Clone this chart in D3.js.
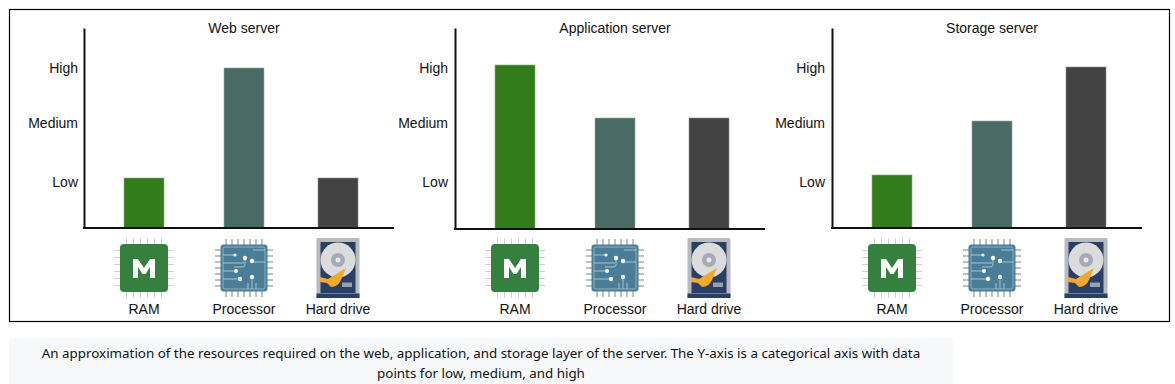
<!DOCTYPE html>
<html>
<head>
<meta charset="utf-8">
<script src="https://cdn.jsdelivr.net/npm/d3@7"></script>
<style>
  html, body { margin: 0; padding: 0; background: #fff; overflow: hidden; }
  svg text { font-family: "Liberation Sans", Arial, sans-serif; font-size: 14px; fill: #111; }
  svg .caption { font-family: "Noto Sans", sans-serif; font-size: 13.36px; fill: #111; }
</style>
</head>
<body>
<div id="chart"></div>
<script>
const categories = ["RAM", "Processor", "Hard drive"];
const titles = ["Web server", "Application server", "Storage server"];
const levelLabels = ["Low", "Medium", "High"];
const levelValues = [46, 105, 160];
const webValues = [50, 160, 50];
const appValues = [163, 110, 110];
const storageValues = [53, 107, 161];
const barColors = ["#337c1b", "#4a6b65", "#434343"];
const captionLines = [
  "An approximation of the resources required on the web, application, and storage layer of the server. The Y-axis is a categorical axis with data",
  "points for low, medium, and high"
];

const width = 1175, height = 384;
const panelLeft = [84, 455, 832];
const labelGap = [6, 7, 7];
const baselineShift = [0, 1, 0];
const panelValues = [webValues, appValues, storageValues];

const svg = d3.select("#chart").append("svg")
  .attr("width", width)
  .attr("height", height)
  .style("display", "block");

svg.append("rect")
  .attr("x", 9.5).attr("y", 9.5)
  .attr("width", 1160).attr("height", 312)
  .attr("fill", "#fff").attr("stroke", "#000").attr("stroke-width", 1.2);

const x = d3.scaleOrdinal().domain(categories).range([60, 160, 254]);
const y = d3.scaleLinear().domain([0, 200]).range([228, 28]);
const barWidth = 40;

function drawRam(g) {
  const pins = d3.range(6).map(i => -17.5 + i * 7);
  g.selectAll(".h").data(pins).join("line").attr("x1", -30).attr("x2", 30)
    .attr("y1", d => d).attr("y2", d => d).attr("stroke", "#cfd3d6");
  g.selectAll(".v").data(pins).join("line").attr("class", "v").attr("y1", -30).attr("y2", 30)
    .attr("x1", d => d).attr("x2", d => d).attr("stroke", "#cfd3d6");
  g.append("rect").attr("x", -24).attr("y", -24).attr("width", 48).attr("height", 48)
    .attr("rx", 4).attr("fill", "#35803f");
  g.append("path").attr("d", "M-11 10V-9H-6L0 0L6 -9H11V10H6V-1L1.5 6H-1.5L-6 -1V10Z")
    .attr("fill", "#fff");
}

function drawProcessor(g) {
  const pins = d3.range(7).map(i => -18 + i * 6);
  g.selectAll(".h").data(pins).join("line").attr("x1", -29).attr("x2", 29)
    .attr("y1", d => d).attr("y2", d => d).attr("stroke", "#76848e");
  g.selectAll(".v").data(pins).join("line").attr("class", "v").attr("y1", -29).attr("y2", 29)
    .attr("x1", d => d).attr("x2", d => d).attr("stroke", "#76848e");
  g.append("rect").attr("x", -23.5).attr("y", -23.5).attr("width", 47).attr("height", 47)
    .attr("rx", 3).attr("fill", "#4a7e98");
  g.append("rect").attr("x", -21).attr("y", -21).attr("width", 42).attr("height", 42)
    .attr("rx", 2).attr("fill", "none").attr("stroke", "#a9c6d4").attr("stroke-width", 0.7);
  const traces = [
    "M-21 -13H-9", "M-21 -5H0", "M21 -18H9", "M21 -6H7", "M1 -10V-3Q1 -1 -3 -1H-10",
    "M-21 3H-8", "M-21 11H-4", "M8 10V21", "M4 15V21", "M12 15V21"
  ];
  g.selectAll(".t").data(traces).join("path").attr("class", "t").attr("d", d => d)
    .attr("fill", "none").attr("stroke", "#bcd5e0").attr("stroke-width", 0.8);
  const dots = [[-9, -13, 1.6], [1, -10, 2.2], [8, -7, 2.2], [-8, 3, 2], [-4, 11, 2.2], [8, 9, 2.2]];
  g.selectAll(".d").data(dots).join("circle").attr("class", "d")
    .attr("cx", d => d[0]).attr("cy", d => d[1]).attr("r", d => d[2]).attr("fill", "#fff");
}

function drawDrive(g) {
  g.append("rect").attr("x", -21.5).attr("y", -30).attr("width", 43).attr("height", 60)
    .attr("rx", 1.5).attr("fill", "#b7bbc0");
  g.append("rect").attr("x", -17.5).attr("y", -26).attr("width", 35).attr("height", 51)
    .attr("fill", "#2a3f66");
  g.append("rect").attr("x", -21.5).attr("y", 25.5).attr("width", 43).attr("height", 4.5)
    .attr("fill", "#2a3f66");
  g.append("circle").attr("cy", -8).attr("r", 17.5).attr("fill", "#dcdcdc");
  g.append("circle").attr("cy", -8).attr("r", 7).attr("fill", "#a7a9b3");
  g.append("circle").attr("cy", -8).attr("r", 2.5).attr("fill", "#e8e8ec");
  g.append("path").attr("d", "M-18 9L-10 11L8 0L3 12Q0 19 -7 19L-11 15L-18 14Z").attr("fill", "#f0a92b");
  g.append("rect").attr("x", 4).attr("y", 14.5).attr("width", 10).attr("height", 4.5).attr("fill", "#9aa0aa");
}

const iconDrawers = [drawRam, drawProcessor, drawDrive];

panelLeft.forEach((left, p) => {
  const g = svg.append("g").attr("transform", `translate(${left},0)`);
  const rows = categories.map((c, i) => ({ category: c, value: panelValues[p][i], color: barColors[i] }));
  const baseline = y(0) + baselineShift[p];

  g.selectAll(".bar").data(rows).join("rect")
    .attr("class", "bar")
    .attr("x", d => x(d.category) - barWidth / 2)
    .attr("y", d => y(d.value))
    .attr("width", barWidth)
    .attr("height", d => baseline - y(d.value))
    .attr("fill", d => d.color)
    .attr("stroke", d => d3.interpolateRgb(d.color, "#fff")(0.4))
    .attr("stroke-width", 0.6);

  const yAxis = d3.axisLeft(y)
    .tickValues(levelValues)
    .tickFormat((d, i) => levelLabels[i])
    .tickSize(0)
    .tickPadding(labelGap[p]);
  const yg = g.append("g").call(yAxis);
  yg.select(".domain").attr("stroke", "#111").attr("stroke-width", 2);
  yg.selectAll("text").style("font-size", "14px").style("font-family", "Liberation Sans");

  g.append("line").attr("x1", -1).attr("x2", 310).attr("y1", baseline).attr("y2", baseline)
    .attr("stroke", "#111").attr("stroke-width", 2);

  g.append("text").attr("x", x(categories[1])).attr("y", 33)
    .attr("text-anchor", "middle").text(titles[p]);

  g.selectAll(".cat").data(categories).join("text")
    .attr("class", "cat")
    .attr("x", d => x(d))
    .attr("y", 314)
    .attr("text-anchor", "middle")
    .text(d => d);

  categories.forEach((c, i) => {
    const icon = g.append("g").attr("transform", `translate(${x(c)},268)`);
    iconDrawers[i](icon);
  });
});

svg.append("rect")
  .attr("x", 9).attr("y", 338)
  .attr("width", 944).attr("height", 60)
  .attr("rx", 4).attr("fill", "#f7f8fa");

svg.selectAll(".caption").data(captionLines).join("text")
  .attr("class", "caption")
  .attr("x", 481)
  .attr("y", (d, i) => 358 + i * 20)
  .attr("text-anchor", "middle")
  .text(d => d);
</script>
</body>
</html>
